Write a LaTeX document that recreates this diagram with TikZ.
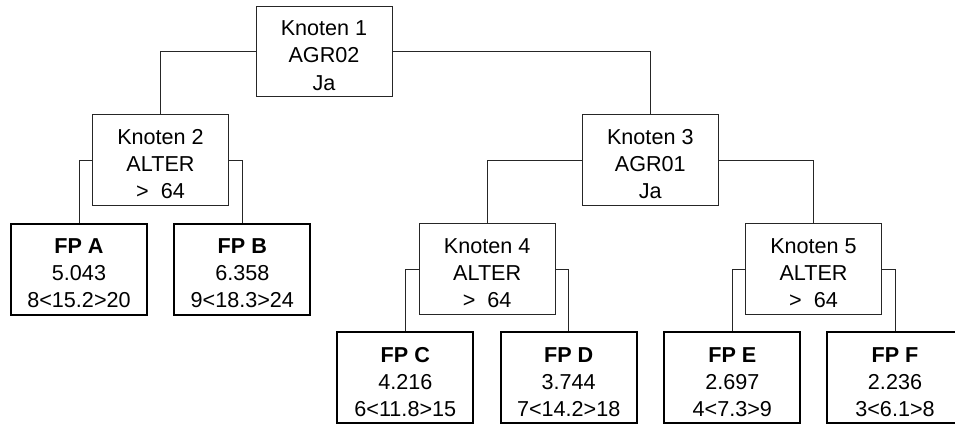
\documentclass[tikz,border=0pt]{standalone}
\usepackage{fontspec}
\setmainfont{Liberation Sans}
\newcommand\boxlines[1]{\raisebox{-6pt}[\height][\depth]{\begin{tabular}{@{}c@{}}#1\end{tabular}}}
\begin{document}
\begin{tikzpicture}[x=1pt,y=-1pt,
  inner/.style={draw=black!85, line width=1pt, minimum width=136pt, minimum height=90.7pt, inner sep=0pt, font=\fontsize{21.6}{27.2}\selectfont},
  leaf/.style={draw=black, line width=2pt, minimum width=136pt, minimum height=91pt, inner sep=0pt, font=\fontsize{21.6}{27.2}\selectfont},
  conn/.style={draw=black!85, line width=1pt}]
\useasboundingbox (0,0) rectangle (955,426);
\clip (0,0) rectangle (955,426);
\node[inner] (k1) at (324,51.5) {\boxlines{Knoten 1\\AGR02\\Ja}};
\node[inner] (k2) at (160.5,160.3) {\boxlines{Knoten 2\\ALTER\\>\ \ 64}};
\node[inner] (k3) at (650.3,160.3) {\boxlines{Knoten 3\\AGR01\\Ja}};
\node[inner] (k4) at (487.2,269.2) {\boxlines{Knoten 4\\ALTER\\>\ \ 64}};
\node[inner] (k5) at (813.5,269.2) {\boxlines{Knoten 5\\ALTER\\>\ \ 64}};
\node[leaf] (fa) at (79,269.2) {\boxlines{\textbf{FP A}\\5.043\\8<15.2>20}};
\node[leaf] (fb) at (242.3,269.2) {\boxlines{\textbf{FP B}\\6.358\\9<18.3>24}};
\node[leaf] (fc) at (405.3,377.8) {\boxlines{\textbf{FP C}\\4.216\\6<11.8>15}};
\node[leaf] (fd) at (568.7,377.8) {\boxlines{\textbf{FP D}\\3.744\\7<14.2>18}};
\node[leaf] (fe) at (732.3,377.8) {\boxlines{\textbf{FP E}\\2.697\\4<7.3>9}};
\node[leaf] (ff) at (895,377.8) {\boxlines{\textbf{FP F}\\2.236\\3<6.1>8}};
\draw[conn] (k1.west) -| (k2.north);
\draw[conn] (k1.east) -| (k3.north);
\draw[conn] (k2.west) -| (fa.north);
\draw[conn] (k2.east) -| (fb.north);
\draw[conn] (k3.west) -| (k4.north);
\draw[conn] (k3.east) -| (k5.north);
\draw[conn] (k4.west) -| (fc.north);
\draw[conn] (k4.east) -| (fd.north);
\draw[conn] (k5.west) -| (fe.north);
\draw[conn] (k5.east) -| (ff.north);
\end{tikzpicture}
\end{document}
